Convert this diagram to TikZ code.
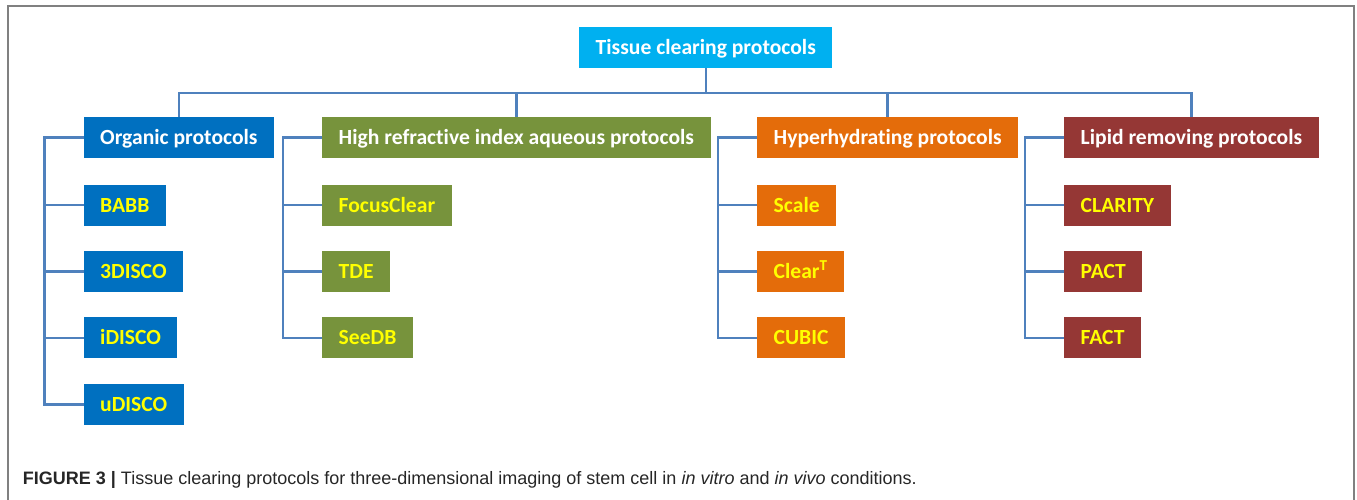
\documentclass[tikz,border=0pt]{standalone}
\usepackage{fontspec}
\setmainfont{Carlito}[Ligatures=NoCommon]
\newfontfamily\captionfont{Liberation Sans}
\usepackage{xcolor}
\usepackage{tikz}
\usetikzlibrary{positioning}

\definecolor{rootcyan}{HTML}{00B0F0}
\definecolor{orgblue}{HTML}{0070C0}
\definecolor{hrigreen}{HTML}{77933C}
\definecolor{hyporange}{HTML}{E46C0A}
\definecolor{lipidred}{HTML}{953735}
\definecolor{linkblue}{HTML}{4F81BD}
\definecolor{leafyellow}{HTML}{FFFF00}

\begin{document}
\begin{tikzpicture}[
    x=1pt, y=-1pt,
    node distance=25pt,
    box/.style={anchor=north west, minimum height=41pt, inner xsep=16.5pt, text height=13.8pt, text depth=0pt, font=\fontsize{21.6}{26}\selectfont\bfseries},
    head/.style={box, text=white},
    leaf/.style={box, text=leafyellow},
    link/.style={draw=linkblue, line width=2.4pt}
]
\useasboundingbox (0,0) rectangle (1357,500);
\draw[gray, line width=2pt] (7.5,6.5) rectangle (1354,520);

\node[head, fill=rootcyan] (root) at (579,27) {Tissue clearing protocols};

% protocol families
\node[head, fill=orgblue] (organic) at (83.5,117) {Organic protocols};
\node[head, fill=hrigreen] (hri) at (322,117) {High refractive index aqueous protocols};
\node[head, fill=hyporange] (hyper) at (757,117) {Hyperhydrating protocols};
\node[head, fill=lipidred] (lipid) at (1064,117) {Lipid removing protocols};

% organic
\node[leaf, fill=orgblue, below=26pt of organic.south west, anchor=north west] (babb) {BABB};
\node[leaf, fill=orgblue, below=of babb.south west, anchor=north west] (tdisco) {3DISCO};
\node[leaf, fill=orgblue, below=of tdisco.south west, anchor=north west] (idisco) {iDISCO};
\node[leaf, fill=orgblue, below=of idisco.south west, anchor=north west] (udisco) {uDISCO};

% high refractive index
\node[leaf, fill=hrigreen, below=26pt of hri.south west, anchor=north west] (focus) {FocusClear};
\node[leaf, fill=hrigreen, below=of focus.south west, anchor=north west] (tde) {TDE};
\node[leaf, fill=hrigreen, below=of tde.south west, anchor=north west] (seedb) {SeeDB};

% hyperhydrating
\node[leaf, fill=hyporange, below=26pt of hyper.south west, anchor=north west] (scale) {Scale};
\node[leaf, fill=hyporange, below=of scale.south west, anchor=north west] (cleart) {Clear\textsuperscript{T}};
\node[leaf, fill=hyporange, below=of cleart.south west, anchor=north west] (cubic) {CUBIC};

% lipid removing
\node[leaf, fill=lipidred, below=26pt of lipid.south west, anchor=north west] (clarity) {CLARITY};
\node[leaf, fill=lipidred, below=of clarity.south west, anchor=north west] (pact) {PACT};
\node[leaf, fill=lipidred, below=of pact.south west, anchor=north west] (fact) {FACT};

% tree lines
\draw[link] (root.south) -- ++(0,24.5) coordinate (bus);
\foreach \g in {organic,hri,hyper,lipid}
    \draw[link] (\g.north) |- (bus);

\draw[link] (organic.west) -- ++(-39,0) |- (udisco.west);
\foreach \n in {babb,tdisco,idisco}
    \draw[link] (\n.west) -- ++(-39,0);
\draw[link] (hri.west) -- ++(-39,0) |- (seedb.west);
\foreach \n in {focus,tde}
    \draw[link] (\n.west) -- ++(-39,0);
\draw[link] (hyper.west) -- ++(-39,0) |- (cubic.west);
\foreach \n in {scale,cleart}
    \draw[link] (\n.west) -- ++(-39,0);
\draw[link] (lipid.west) -- ++(-39,0) |- (fact.west);
\foreach \n in {clarity,pact}
    \draw[link] (\n.west) -- ++(-39,0);

\node[anchor=base west, inner sep=0pt, text=black!85, font=\captionfont\fontsize{18}{22}\selectfont] (caption) at (22.7,484)
    {\textbf{FIGURE 3 |} Tissue clearing protocols for three-dimensional imaging of stem cell in \textit{in vitro} and \textit{in vivo} conditions.};
\end{tikzpicture}
\end{document}
